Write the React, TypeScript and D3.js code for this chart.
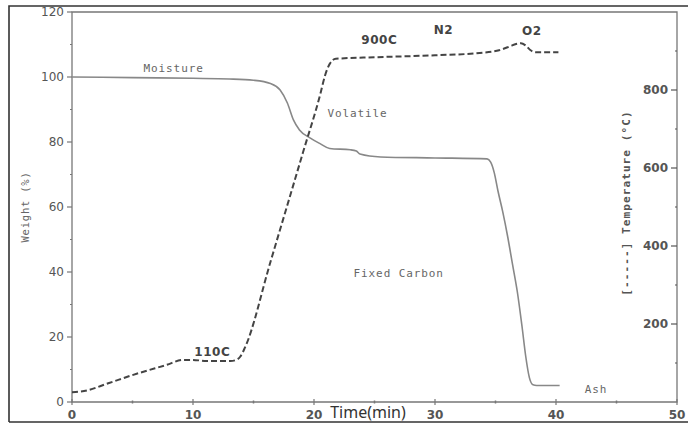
import React, { useEffect, useRef } from "react";
import * as d3 from "d3";

// time (min) vs weight (%)
const weightTime = [0, 5, 10, 13, 15, 16.4, 17.2, 17.8, 18.3, 18.8, 19.7, 20.5, 21.3, 23.0, 23.5, 23.8, 25.5, 30, 34.3, 34.6, 34.9, 35.2, 35.6, 36.0, 36.4, 36.8, 37.2, 37.5, 37.8, 38.1, 38.4, 40.3];
const weightValue = [100, 99.8, 99.6, 99.4, 99.0, 98, 96, 92, 86.8, 83.7, 81.2, 79.5, 78, 77.6, 77.2, 76.3, 75.4, 75.1, 74.8, 73.8, 70.5, 65, 58.5, 51, 42.5, 34, 23, 14, 7.5, 5.3, 5.1, 5.1];

// time (min) vs temperature (°C)
const tempTime = [0, 1, 3, 5, 7.8, 9.2, 10, 11.1, 13.1, 13.5, 13.9, 14.3, 16.4, 17.8, 19.1, 20.5, 20.9, 21.3, 21.8, 25, 30, 33.7, 35.3, 36.2, 36.7, 37.1, 37.5, 37.9, 38.3, 40.2];
const tempValue = [25, 28, 48, 69, 95, 108, 108, 105, 105, 107, 116, 140, 359, 505, 641, 787, 836, 867, 880, 884, 889, 895, 902, 912, 918, 920, 914, 902, 897, 897];

const xTicks = [0, 10, 20, 30, 40, 50];
const xMinor = [5, 15, 25, 35, 45];
const wTicks = [0, 20, 40, 60, 80, 100, 120];
const wMinor = [10, 30, 50, 70, 90, 110];
const tTicks = [200, 400, 600, 800];
const tMinor = [100, 300, 500, 700, 900];

// annotation labels: [text, time, weight]
const notes: [string, number, number][] = [
  ["Moisture", 8.4, 102.8],
  ["Volatile", 23.6, 88.9],
  ["Fixed Carbon", 27.0, 39.7],
  ["Ash", 43.3, 4.0],
];
const bold: [string, number, number][] = [
  ["900C", 25.4, 111.4],
  ["N2", 30.7, 114.5],
  ["O2", 38.0, 114.2],
  ["110C", 11.6, 15.4],
];

const App = () => {
  const ref = useRef<SVGSVGElement>(null);

  useEffect(() => {
    const svg = d3.select(ref.current);
    svg.selectAll("*").remove();

    const x = d3.scaleLinear().domain([0, 50]).range([72, 677]);
    const yW = d3.scaleLinear().domain([0, 120]).range([402, 12]);
    const yT = d3.scaleLinear().domain([0, 1000]).range([402, 12]);

    const mono = "'DejaVu Sans Mono', monospace";
    const sans = "'DejaVu Sans', sans-serif";

    // outer frame
    svg.append("path")
      .attr("d", "M9,422 L9,6 L690,6 M9,422 L690,422")
      .attr("fill", "none").attr("stroke", "#333").attr("stroke-width", 1.6);

    // plot box
    svg.append("path")
      .attr("d", `M${x(0)},${yW(120)} L${x(50)},${yW(120)} L${x(50)},${yW(0)} L${x(0)},${yW(0)} Z`)
      .attr("fill", "none").attr("stroke", "#777").attr("stroke-width", 1.3);

    const axisColor = "#777";
    const g = svg.append("g");

    // left ticks
    wTicks.forEach((v) => {
      g.append("line").attr("x1", x(0) - 5).attr("x2", x(0)).attr("y1", yW(v)).attr("y2", yW(v))
        .attr("stroke", axisColor).attr("stroke-width", 1.2);
      g.append("text").attr("x", x(0) - 8).attr("y", yW(v)).attr("dy", "0.35em")
        .attr("text-anchor", "end").attr("font-family", sans).attr("font-size", 12)
        .attr("fill", "#555").text(v);
    });
    wMinor.forEach((v) => {
      g.append("line").attr("x1", x(0) - 2).attr("x2", x(0)).attr("y1", yW(v)).attr("y2", yW(v))
        .attr("stroke", axisColor).attr("stroke-width", 1.2);
    });

    // right ticks (inside)
    tTicks.forEach((v) => {
      g.append("line").attr("x1", x(50) - 6).attr("x2", x(50)).attr("y1", yT(v)).attr("y2", yT(v))
        .attr("stroke", "#555").attr("stroke-width", 1.2);
      g.append("text").attr("x", x(50) - 9).attr("y", yT(v)).attr("dy", "0.35em")
        .attr("text-anchor", "end").attr("font-family", sans).attr("font-size", 12)
        .attr("font-weight", "bold").attr("fill", "#555").text(v);
    });
    tMinor.forEach((v) => {
      g.append("line").attr("x1", x(50) - 2).attr("x2", x(50)).attr("y1", yT(v)).attr("y2", yT(v))
        .attr("stroke", "#555").attr("stroke-width", 1.2);
    });

    // bottom ticks
    xTicks.forEach((v) => {
      g.append("line").attr("x1", x(v)).attr("x2", x(v)).attr("y1", yW(0) - 3).attr("y2", yW(0) + 3)
        .attr("stroke", axisColor).attr("stroke-width", 1.2);
      g.append("text").attr("x", x(v)).attr("y", yW(0) + 13).attr("dy", "0.35em")
        .attr("text-anchor", "middle").attr("font-family", sans).attr("font-size", 12)
        .attr("font-weight", "bold").attr("fill", "#555").text(v);
    });
    xMinor.forEach((v) => {
      g.append("line").attr("x1", x(v)).attr("x2", x(v)).attr("y1", yW(0) - 1.5).attr("y2", yW(0) + 1.5)
        .attr("stroke", axisColor).attr("stroke-width", 1.5);
    });

    // axis titles
    svg.append("text").attr("transform", `translate(25,207) rotate(-90)`)
      .attr("dy", "0.35em").attr("text-anchor", "middle").attr("font-family", mono)
      .attr("font-size", 10.5).attr("letter-spacing", 0.8).attr("fill", "#666").text("Weight (%)");
    svg.append("text").attr("transform", `translate(626,203) rotate(-90)`)
      .attr("dy", "0.35em").attr("text-anchor", "middle").attr("font-family", mono)
      .attr("font-size", 11).attr("letter-spacing", 1.1).attr("font-weight", "bold")
      .attr("fill", "#555").text("[-----] Temperature (\u00B0C)");
    svg.append("text").attr("x", 368).attr("y", 418).attr("text-anchor", "middle")
      .attr("font-family", "'Noto Sans', sans-serif").attr("font-size", 16)
      .attr("fill", "#333").text("Time(min)");

    // weight curve
    const wData = weightTime.map((t, i) => [t, weightValue[i]] as [number, number]);
    const lineW = d3.line<[number, number]>().x((d) => x(d[0])).y((d) => yW(d[1])).curve(d3.curveMonotoneX);
    svg.append("path").attr("d", lineW(wData)).attr("fill", "none")
      .attr("stroke", "#888").attr("stroke-width", 1.6);

    // temperature curve
    const tData = tempTime.map((t, i) => [t, tempValue[i]] as [number, number]);
    const lineT = d3.line<[number, number]>().x((d) => x(d[0])).y((d) => yT(d[1])).curve(d3.curveMonotoneX);
    svg.append("path").attr("d", lineT(tData)).attr("fill", "none")
      .attr("stroke", "#444").attr("stroke-width", 2).attr("stroke-dasharray", "6,3");

    // annotations
    notes.forEach(([s, t, w]) => {
      svg.append("text").attr("x", x(t)).attr("y", yW(w)).attr("dy", "0.35em")
        .attr("text-anchor", "middle").attr("font-family", mono).attr("font-size", 11)
        .attr("letter-spacing", 0.9).attr("fill", "#666").text(s);
    });
    bold.forEach(([s, t, w]) => {
      svg.append("text").attr("x", x(t)).attr("y", yW(w)).attr("dy", "0.35em")
        .attr("text-anchor", "middle").attr("font-family", sans).attr("font-size", 12)
        .attr("font-weight", "bold").attr("letter-spacing", 0.6).attr("fill", "#444").text(s);
    });
  }, []);

  return (
    <svg ref={ref} width={688} height={424}
      style={{ position: "absolute", left: 0, top: 0, background: "#fff" }} />
  );
};

export default App;
